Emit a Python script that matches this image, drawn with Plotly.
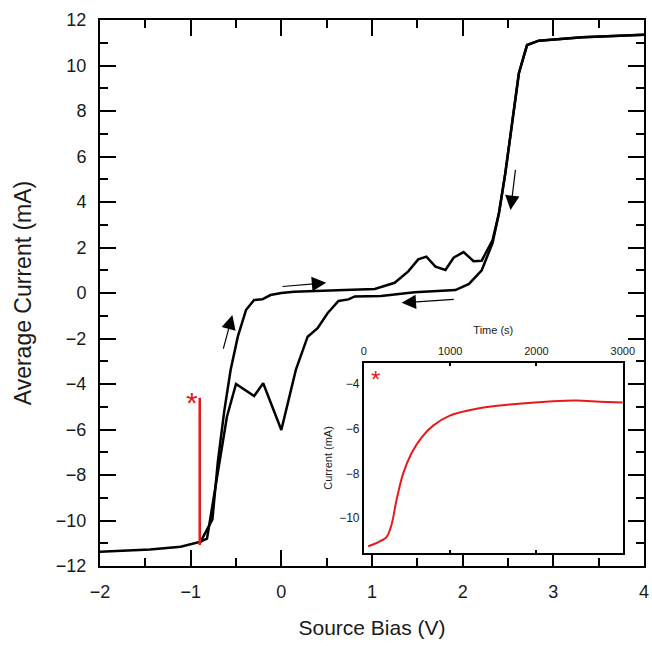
import plotly.graph_objects as go

# Forward sweep (left branch up, flat with bumps, steep up to saturation)
fwd_v = [-2.0, -1.45, -1.11, -0.89, -0.76, -0.70, -0.63, -0.56, -0.48, -0.39, -0.30, -0.21, -0.12, 0.0, 0.14,
         0.37, 0.70, 1.03, 1.25, 1.40, 1.51, 1.60, 1.70, 1.81, 1.90, 2.01, 2.12, 2.21, 2.33, 2.40, 2.47, 2.55,
         2.62, 2.71, 2.84, 3.32, 4.0]
fwd_i = [-11.37, -11.27, -11.15, -10.93, -9.95, -7.4, -5.2, -3.4, -1.92, -0.75, -0.31, -0.28, -0.09, 0.0, 0.06,
         0.08, 0.13, 0.18, 0.45, 0.95, 1.48, 1.6, 1.16, 1.01, 1.55, 1.8, 1.4, 1.42, 2.33, 3.5, 5.26, 7.6,
         9.66, 10.9, 11.09, 11.24, 11.35]

# Backward sweep
bwd_v = [4.0, 3.32, 2.84, 2.71, 2.62, 2.55, 2.47, 2.40, 2.33, 2.21, 2.07, 1.92, 1.47, 1.10, 0.81, 0.74, 0.63,
         0.51, 0.40, 0.29, 0.16, 0.0, -0.20, -0.30, -0.50, -0.60, -0.82, -0.89]
bwd_i = [11.35, 11.24, 11.09, 10.9, 9.66, 7.6, 5.26, 3.5, 2.2, 1.0, 0.4, 0.13, 0.03, -0.13, -0.15, -0.28, -0.35,
         -0.89, -1.55, -1.92, -3.38, -6.02, -3.97, -4.53, -4.0, -5.44, -10.8, -10.93]

# Red marker line in main plot
mark_v = [-0.9, -0.9]
mark_i = [-4.6, -11.08]

# Inset: current vs time
inset_t = [50, 120, 190, 263, 320, 378, 456, 552, 668, 803, 996, 1305, 1691, 2193, 2463, 2734, 3000]
inset_i = [-11.25, -11.15, -11.02, -10.84, -10.3, -9.2, -8.0, -7.1, -6.4, -5.87, -5.42, -5.12, -4.93, -4.78,
           -4.75, -4.8, -4.84]

# Arrows: (head_v, head_i, tail_v, tail_i)
arrows = [
    (-0.54, -0.97, -0.644, -2.51),
    (0.495, 0.45, -0.004, 0.28),
    (2.528, 3.65, 2.584, 5.48),
    (1.327, -0.43, 1.918, -0.28),
]

FONT = "Liberation Sans, Arial, sans-serif"
RED = "#e8191b"
TXT = "#1a1a1a"

fig = go.Figure()
fig.add_trace(go.Scatter(x=fwd_v, y=fwd_i, mode="lines", line=dict(color="black", width=2.5),
                         showlegend=False, hoverinfo="skip"))
fig.add_trace(go.Scatter(x=bwd_v, y=bwd_i, mode="lines", line=dict(color="black", width=2.5),
                         showlegend=False, hoverinfo="skip"))
fig.add_trace(go.Scatter(x=mark_v, y=mark_i, mode="lines", line=dict(color=RED, width=2.5),
                         showlegend=False, hoverinfo="skip"))
fig.add_trace(go.Scatter(x=inset_t, y=inset_i, mode="lines", line=dict(color=RED, width=2, shape="spline"),
                         xaxis="x2", yaxis="y2", showlegend=False, hoverinfo="skip"))

annotations = []
for hv, hi, tv, ti in arrows:
    annotations.append(dict(x=hv, y=hi, ax=tv, ay=ti, xref="x", yref="y", axref="x", ayref="y",
                            text="", showarrow=True, arrowhead=2, arrowsize=2.4, arrowwidth=1.2,
                            arrowcolor="black"))
annotations.append(dict(x=-0.98, y=-4.45, xref="x", yref="y", text="*", showarrow=False,
                        font=dict(family=FONT, size=30, color=RED), yshift=-8))
annotations.append(dict(x=130, y=-3.5, xref="x2", yref="y2", text="*", showarrow=False,
                        font=dict(family=FONT, size=24, color=RED), yshift=-7))

axis_common = dict(showline=True, linecolor="black", linewidth=2, mirror="allticks", ticks="inside",
                   tickcolor="black", tickwidth=2, ticklen=16, showgrid=False, zeroline=False,
                   automargin=False,
                   tickfont=dict(family=FONT, size=18, color=TXT))

fig.update_layout(
    width=652, height=646,
    margin=dict(l=100, r=8, t=20, b=80),
    paper_bgcolor="white", plot_bgcolor="white",
    font=dict(family=FONT, color=TXT),
    xaxis=dict(range=[-2, 4], dtick=1, tick0=-2,
               minor=dict(dtick=0.5, ticklen=8, tickwidth=2, tickcolor="black", ticks="inside"),
               title=dict(text="Source Bias (V)", font=dict(family=FONT, size=21, color=TXT), standoff=20),
               ticklabelstandoff=8, **axis_common),
    yaxis=dict(range=[-12, 12], dtick=2, tick0=-12,
               minor=dict(dtick=1, ticklen=8, tickwidth=2, tickcolor="black", ticks="inside"),
               title=dict(text="Average Current (mA)", font=dict(family=FONT, size=23, color=TXT), standoff=18),
               ticklabelstandoff=8, **axis_common),
    xaxis2=dict(domain=[0.485, 0.961], anchor="y2", side="top", range=[0, 3000], dtick=1000,
                showline=True, linecolor="black", linewidth=1.8, mirror="allticks", ticks="inside",
                ticklen=3, tickwidth=1.5, tickcolor="black", showgrid=False, zeroline=False,
                automargin=False, ticklabelstandoff=2,
                tickfont=dict(family=FONT, size=11, color=TXT),
                title=dict(text="Time (s)", font=dict(family=FONT, size=11, color=TXT), standoff=8)),
    yaxis2=dict(domain=[0.0238, 0.372], anchor="x2", range=[-11.55, -3.07], dtick=2, tick0=-10,
                showline=True, linecolor="black", linewidth=1.8, mirror="allticks", ticks="",
                showgrid=False, zeroline=False, automargin=False,
                tickfont=dict(family=FONT, size=12, color=TXT),
                title=dict(text="Current (mA)", font=dict(family=FONT, size=11, color=TXT), standoff=4)),
    annotations=annotations,
)

fig.write_html("out.html", config={"displayModeBar": False},
               post_script="document.body.style.margin='0';document.body.style.overflow='hidden';")
